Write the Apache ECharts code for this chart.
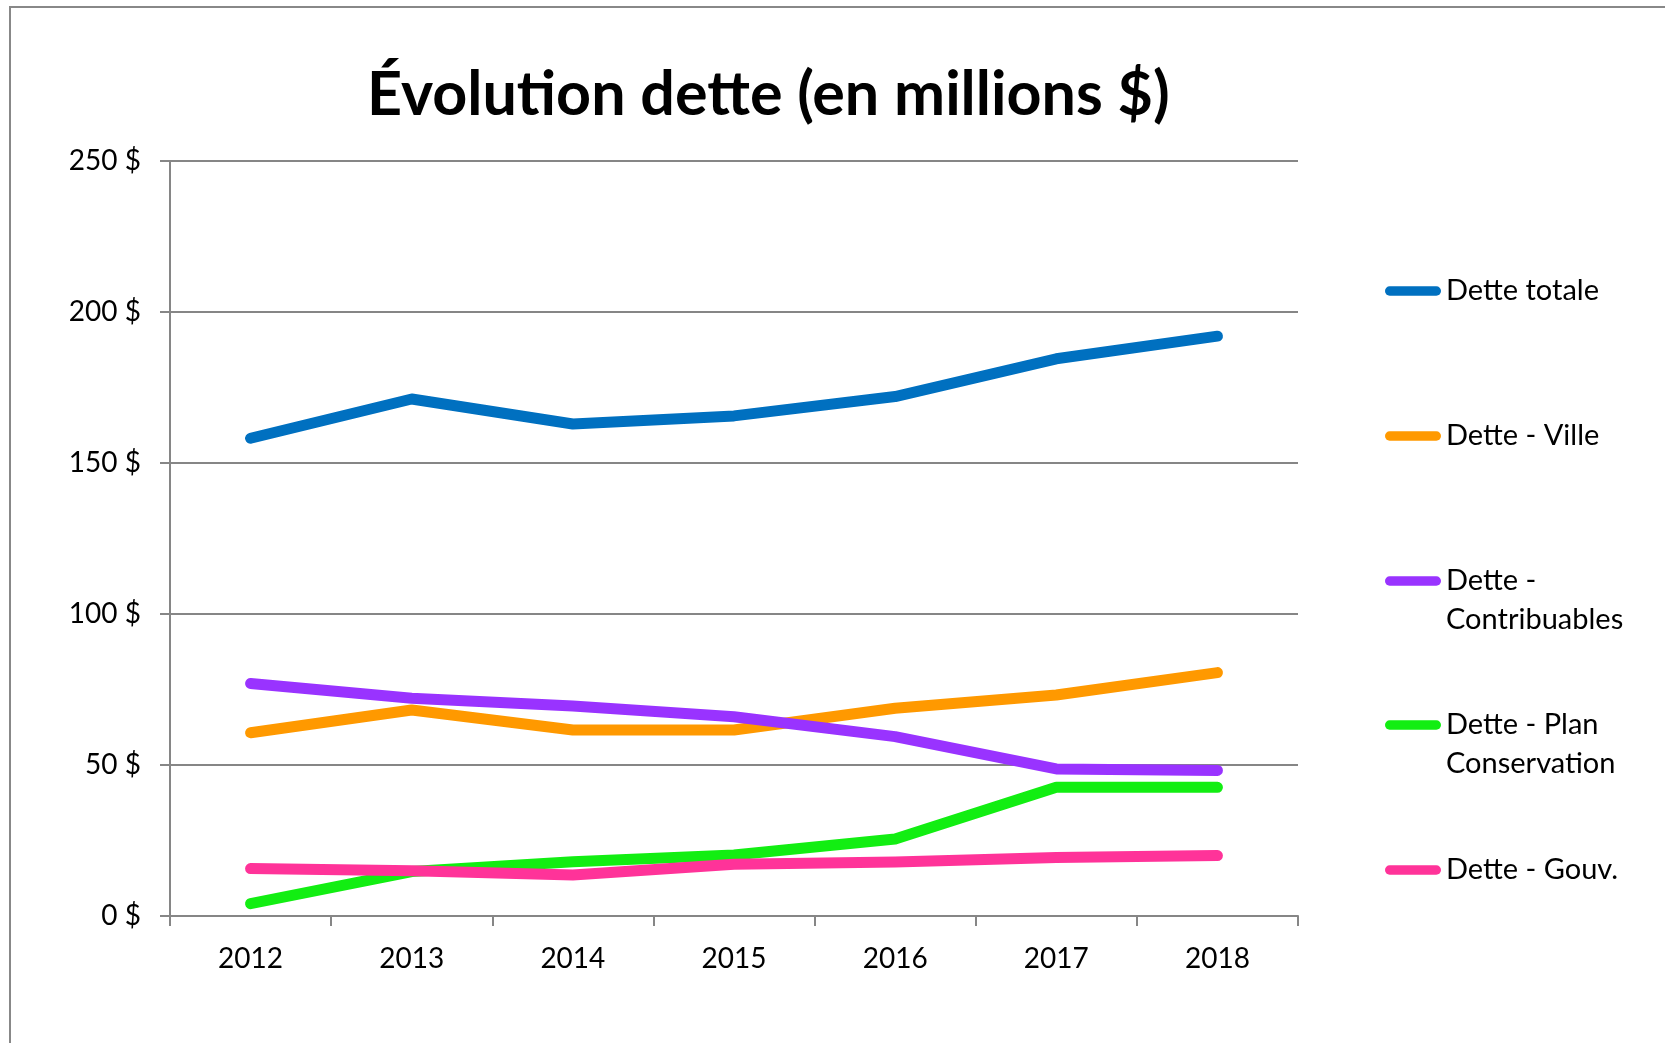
<!DOCTYPE html>
<html>
<head>
<meta charset="utf-8">
<script src="https://cdn.jsdelivr.net/npm/echarts@6/dist/echarts.min.js"></script>
<style>
html,body{margin:0;padding:0;background:#fff;}
#chart{width:1665px;height:1043px;}
</style>
</head>
<body>
<div id="chart"></div>
<script>
const years = ['2012','2013','2014','2015','2016','2017','2018'];
const detteTotale = [158.2, 171.2, 162.9, 165.6, 172.0, 184.5, 192.0];
const detteVille = [60.7, 68.2, 61.6, 61.6, 68.8, 73.2, 80.6];
const detteContribuables = [77.0, 72.1, 69.5, 66.0, 59.4, 48.7, 48.2];
const dettePlanConservation = [4.1, 14.7, 18.0, 20.2, 25.5, 42.6, 42.6];
const detteGouv = [15.7, 15.0, 13.6, 17.1, 17.9, 19.4, 20.0];
const seriesNames = ['Dette totale', 'Dette - Ville', 'Dette -\nContribuables', 'Dette - Plan\nConservation', 'Dette - Gouv.'];
const seriesColors = ['#0070C0', '#FF9900', '#9933FF', '#12EE12', '#FF3399'];
const yTicks = {min: 0, max: 250, interval: 50};

const FONT = 'Lato';
const chart = echarts.init(document.getElementById('chart'), null, {renderer: 'canvas'});
const allData = [detteTotale, detteVille, detteContribuables, dettePlanConservation, detteGouv];

const legendCenters = [291, 436, 581, 725, 870];
const LH = 39;
const capsule = 'path://M5,0 L55,0 A5,5 0 0 1 55,10 L5,10 A5,5 0 0 1 5,0 Z';
const legends = seriesNames.map((name, i) => {
  const twoLine = name.indexOf('\n') >= 0;
  return {
    orient: 'vertical',
    left: 1385,
    top: twoLine ? legendCenters[i] - 1.5 * LH : legendCenters[i] - LH / 2,
    padding: 0,
    itemWidth: 56,
    itemHeight: 11,
    icon: capsule,
    data: [{name: name, icon: capsule}],
    formatter: n => (n.indexOf('\n') >= 0 ? '\n' + n : n),
    textStyle: {fontFamily: FONT, fontSize: 29, color: '#000', lineHeight: LH}
  };
});

const option = {
  backgroundColor: '#fff',
  animation: false,
  title: {
    text: 'Évolution dette (en millions $)',
    left: 362,
    top: 60,
    textStyle: {fontFamily: FONT, fontWeight: 'bold', fontSize: 61, color: '#000'}
  },
  legend: legends,
  grid: {left: 170, right: 367, top: 161, bottom: 127, containLabel: false},
  xAxis: {
    type: 'category',
    data: years,
    boundaryGap: true,
    axisLine: {show: true, lineStyle: {color: '#868686', width: 2}},
    axisTick: {show: true, length: 10, lineStyle: {color: '#868686', width: 2}},
    axisLabel: {fontFamily: FONT, fontSize: 28, color: '#000', margin: 29},
    splitLine: {show: false}
  },
  yAxis: {
    type: 'value',
    min: yTicks.min, max: yTicks.max, interval: yTicks.interval,
    axisLine: {show: true, lineStyle: {color: '#868686', width: 2}},
    axisTick: {show: true, length: 10, lineStyle: {color: '#868686', width: 2}},
    axisLabel: {fontFamily: FONT, fontSize: 28, color: '#000', margin: 29, formatter: '{value} $'},
    splitLine: {show: true, lineStyle: {color: '#868686', width: 2}}
  },
  graphic: [{
    type: 'rect',
    silent: true,
    shape: {x: 10, y: 7, width: 1700, height: 1100},
    style: {fill: 'none', stroke: '#888888', lineWidth: 2}
  }],
  series: seriesNames.map((name, i) => ({
    name: name,
    type: 'line',
    data: allData[i],
    symbol: 'none',
    showSymbol: false,
    color: seriesColors[i],
    lineStyle: {width: 11, color: seriesColors[i], cap: 'round', join: 'round'},
    emphasis: {disabled: true},
    z: 3
  }))
};
chart.setOption(option);
</script>
</body>
</html>
